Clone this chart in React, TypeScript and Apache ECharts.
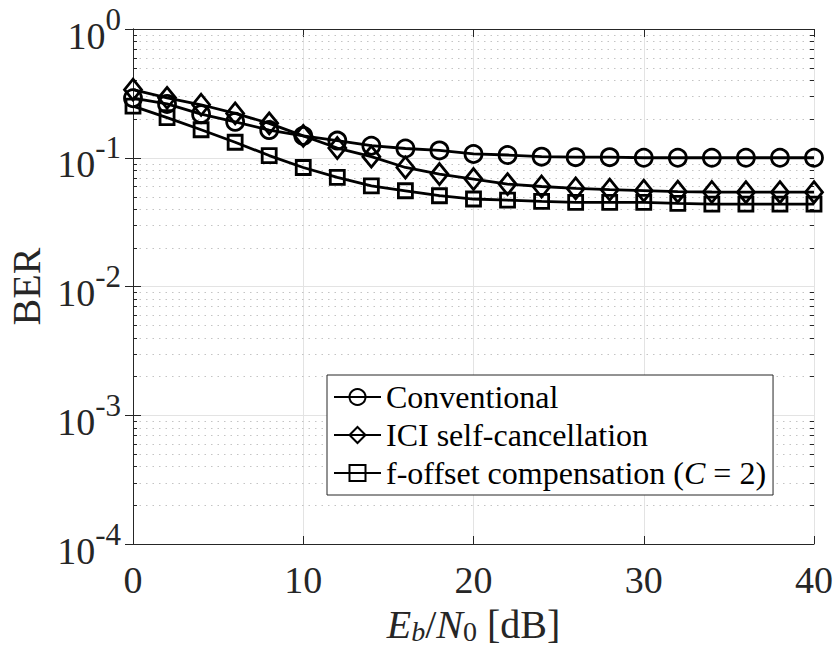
import React, { useEffect, useRef } from "react";
import * as echarts from "echarts";

const snr = [0, 2, 4, 6, 8, 10, 12, 14, 16, 18, 20, 22, 24, 26, 28, 30, 32, 34, 36, 38, 40];
const conventional = [0.29, 0.262, 0.218, 0.19, 0.164, 0.148, 0.136, 0.124, 0.118, 0.114, 0.107, 0.105, 0.102, 0.101, 0.101, 0.1, 0.1, 0.1, 0.1, 0.1, 0.1];
const iciSelfCancel = [0.338, 0.292, 0.258, 0.221, 0.185, 0.148, 0.119, 0.102, 0.084, 0.0747, 0.0683, 0.0624, 0.0598, 0.0578, 0.0565, 0.0555, 0.0545, 0.0542, 0.054, 0.054, 0.054];
const fOffsetComp = [0.252, 0.205, 0.165, 0.132, 0.104, 0.084, 0.0703, 0.0605, 0.0554, 0.0507, 0.0478, 0.0468, 0.0458, 0.045, 0.045, 0.045, 0.0443, 0.0437, 0.0437, 0.0437, 0.0437];
const seriesNames = ["Conventional", "ICI self-cancellation", "f-offset compensation (C = 2)"];
const decades = [1e-4, 1e-3, 1e-2, 1e-1];
const minorMultipliers = [2, 3, 4, 5, 6, 7, 8, 9];

const FONT = "'Liberation Serif', 'Times New Roman', serif";
const AX = "#262626";

export default function App() {
  const ref = useRef<HTMLDivElement>(null);
  useEffect(() => {
    if (!ref.current) return;
    const chart = echarts.init(ref.current, undefined, { renderer: "svg" });
    const minorVals: number[] = [];
    decades.forEach((d) => minorMultipliers.forEach((m) => minorVals.push(d * m)));

    const mk = (name: string, ys: number[], symbol: string, size: any) => ({
      type: "line",
      name,
      data: snr.map((x, i) => [x, ys[i]]),
      symbol,
      symbolSize: size,
      showAllSymbol: true,
      clip: false,
      z: 3,
      lineStyle: { color: "#000", width: 2.8 },
      itemStyle: { color: "rgba(255,255,255,0)", borderColor: "#000", borderWidth: 2.8 },
      emphasis: { disabled: true },
    });

    const option: any = {
      animation: false,
      grid: { left: 133, right: 24, top: 29, bottom: 107, outerBoundsMode: "none", containLabel: false },
      xAxis: [
        {
          type: "value",
          min: 0,
          max: 40,
          interval: 10,
          position: "bottom",
          axisLine: { show: true, lineStyle: { color: AX, width: 1 } },
          axisTick: { show: true, inside: true, length: 8, lineStyle: { color: AX } },
          axisLabel: { fontFamily: FONT, fontSize: 38, color: AX, margin: 17, lineHeight: 38 },
          splitLine: { show: true, lineStyle: { color: "#e3e3e3", width: 1 } },
          name: "{i|E}{is|b}{n|/}{i|N}{s|0}{n| [dB]}",
          nameLocation: "middle",
          nameGap: 56,
          nameTextStyle: {
            fontFamily: FONT,
            color: AX,
            fontSize: 40,
            lineHeight: 40,
            rich: {
              i: { fontFamily: FONT, fontStyle: "italic", fontSize: 40, lineHeight: 40, color: AX },
              n: { fontFamily: FONT, fontSize: 40, lineHeight: 40, color: AX },
              is: { fontFamily: FONT, fontStyle: "italic", fontSize: 28, lineHeight: 28, padding: [14, 0, 0, 0], color: AX },
              s: { fontFamily: FONT, fontSize: 28, lineHeight: 28, padding: [14, 0, 0, 0], color: AX },
            },
          },
        },
        {
          type: "value",
          min: 0,
          max: 40,
          interval: 10,
          position: "top",
          axisLine: { show: true, lineStyle: { color: AX, width: 1 } },
          axisTick: { show: true, inside: true, length: 8, lineStyle: { color: AX } },
          axisLabel: { show: false },
          splitLine: { show: false },
        },
      ],
      yAxis: [
        {
          type: "log",
          logBase: 10,
          min: 0.0001,
          max: 1,
          interval: 1,
          position: "left",
          axisLine: { show: true, lineStyle: { color: AX, width: 1 } },
          axisTick: { show: true, inside: true, length: 8, lineStyle: { color: AX } },
          axisLabel: {
            margin: 12,
            formatter: (v: number) => `{b|10}{s|${Math.round(Math.log10(v))}}`,
            rich: {
              b: { fontFamily: FONT, fontSize: 38, lineHeight: 38, padding: [13, 0, 0, 0], color: AX },
              s: { fontFamily: FONT, fontSize: 31, lineHeight: 31, padding: [0, 0, 20, 0], color: AX },
            },
          },
          splitLine: { show: true, lineStyle: { color: "#e3e3e3", width: 1 } },
          name: "BER",
          nameLocation: "middle",
          nameGap: 84,
          nameRotate: 90,
          nameTextStyle: { fontFamily: FONT, fontSize: 40, lineHeight: 40, color: AX },
        },
        {
          type: "log",
          logBase: 10,
          min: 0.0001,
          max: 1,
          interval: 1,
          position: "right",
          axisLine: { show: true, lineStyle: { color: AX, width: 1 } },
          axisTick: { show: true, inside: true, length: 8, lineStyle: { color: AX } },
          axisLabel: { show: false },
          splitLine: { show: false },
        },
      ],
      legend: {
        data: seriesNames,
        orient: "vertical",
        left: 327,
        top: 375,
        padding: [6, 7, 6, 6],
        itemGap: 6,
        itemWidth: 47,
        itemHeight: 20,
        backgroundColor: "#fff",
        borderColor: AX,
        borderWidth: 1,
        borderRadius: 0,
        selectedMode: false,
        formatter: (name: string) =>
          name === seriesNames[2] ? "{n|f-offset compensation (}{i|C}{n| = 2)}" : name,
        textStyle: {
          fontFamily: FONT,
          fontSize: 32,
          lineHeight: 32,
          color: "#000",
          rich: {
            n: { fontFamily: FONT, fontSize: 32, lineHeight: 32, color: "#000" },
            i: { fontFamily: FONT, fontStyle: "italic", fontSize: 32, lineHeight: 32, color: "#000" },
          },
        },
      },
      series: [
        {
          type: "custom",
          coordinateSystem: "cartesian2d",
          xAxisIndex: 0,
          yAxisIndex: 0,
          silent: true,
          z: 1,
          data: minorVals.map((v) => [0, v]),
          renderItem: (params: any, api: any) => {
            const p = api.coord([0, api.value(1)]);
            const cs = params.coordSys;
            const y = Math.round(p[1]) + 0.5;
            return {
              type: "group",
              children: [
                { type: "line", shape: { x1: cs.x, y1: y, x2: cs.x + cs.width, y2: y }, style: { stroke: "#c4c4c4", lineWidth: 1, lineDash: [1.5, 5] } },
                { type: "line", shape: { x1: cs.x, y1: y, x2: cs.x + 4, y2: y }, style: { stroke: AX, lineWidth: 1 } },
                { type: "line", shape: { x1: cs.x + cs.width - 4, y1: y, x2: cs.x + cs.width, y2: y }, style: { stroke: AX, lineWidth: 1 } },
              ],
            };
          },
        },
        mk(seriesNames[0], conventional, "circle", 17),
        mk(seriesNames[1], iciSelfCancel, "diamond", [17, 21]),
        mk(seriesNames[2], fOffsetComp, "rect", 14),
      ],
    };
    chart.setOption(option);
    return () => chart.dispose();
  }, []);
  return <div ref={ref} style={{ position: "absolute", left: 0, top: 0, width: 838, height: 651 }} />;
}
